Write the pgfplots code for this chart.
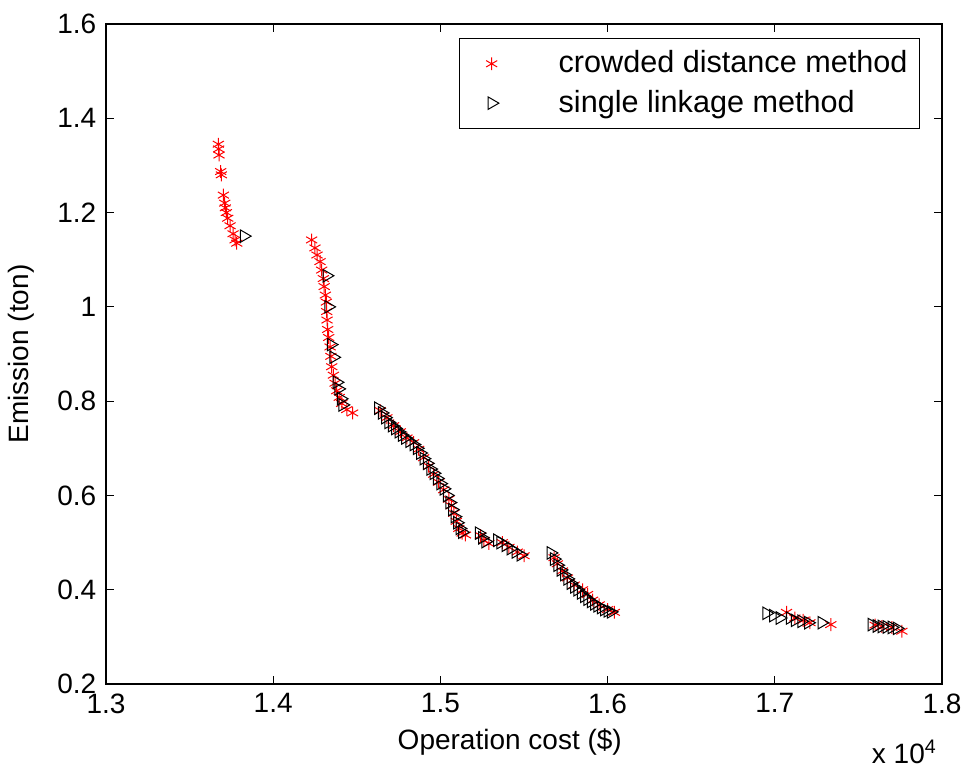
\documentclass[border=0pt]{standalone}
\usepackage{pgfplots}
\pgfplotsset{compat=1.18}
\usepackage{fontspec}
\setmainfont{Liberation Sans}
\usetikzlibrary{calc}
\begin{document}
\fontsize{14}{17}\selectfont
\begin{tikzpicture}
\begin{axis}[name=ax,
  scale only axis, width=418pt, height=330pt,
  xmin=1.3, xmax=1.8, ymin=0.2, ymax=1.6,
  xtick={1.3,1.4,...,1.8}, ytick={0.2,0.4,...,1.6},
  xticklabels={1.3,1.4,1.5,1.6,1.7,1.8},
  yticklabels={0.2,0.4,0.6,0.8,1,1.2,1.4,1.6},
  tick align=inside, major tick length=4pt,
  ticklabel style={font=\fontsize{14}{17}\selectfont},
  /pgf/number format/assume math mode=true,
  axis line style={line width=0.6pt}, tick style={line width=0.6pt, black},
  xlabel={Operation cost (\$)}, ylabel={Emission (ton)},
  every axis x label/.style={at={(rel axis cs:0.483,-0.088)}, anchor=center, font=\fontsize{14}{17}\selectfont},
  every axis y label/.style={at={(rel axis cs:-0.1017,0.5)}, rotate=90, anchor=center, font=\fontsize{14}{17}\selectfont},
  legend style={at={(1,1)}, anchor=north east, xshift=-11pt, yshift=-7pt, draw=black, line width=0.6pt,
    font=\fontsize{15.3}{17}\selectfont, row sep=2.5pt, inner xsep=4pt, inner ysep=4pt,
    /tikz/every odd column/.append style={column sep=19.5pt}},
  legend cell align=left,
  legend image code/.code={\path[draw=none, fill=none] (0pt,-1pt) rectangle (24pt,1pt); \draw[#1] plot coordinates {(12pt,0pt)};},
]
\addplot[only marks, mark=asterisk, mark size=3.2pt, red, mark options={line width=0.5pt}] table {
x y
1.3672 1.345
1.3674 1.335
1.3676 1.322
1.3686 1.287
1.3690 1.280
1.3702 1.237
1.3710 1.220
1.3714 1.210
1.3720 1.200
1.3728 1.188
1.3742 1.172
1.3760 1.155
1.3772 1.142
1.3782 1.135
1.4230 1.142
1.4250 1.125
1.4262 1.110
1.4280 1.096
1.4290 1.078
1.4300 1.060
1.4305 1.043
1.4312 1.025
1.4318 1.010
1.4320 0.990
1.4322 0.972
1.4326 0.952
1.4332 0.935
1.4340 0.915
1.4345 0.895
1.4350 0.873
1.4360 0.855
1.4370 0.838
1.4380 0.822
1.4395 0.808
1.4410 0.795
1.4440 0.782
1.4475 0.775
1.4640 0.780
1.4680 0.765
1.4720 0.748
1.4760 0.735
1.4800 0.722
1.4840 0.712
1.4870 0.698
1.4900 0.680
1.4930 0.662
1.4960 0.645
1.4990 0.628
1.5020 0.612
1.5050 0.592
1.5065 0.578
1.5080 0.562
1.5095 0.545
1.5110 0.530
1.5130 0.520
1.5150 0.516
1.5240 0.515
1.5260 0.505
1.5290 0.498
1.5370 0.500
1.5410 0.490
1.5460 0.480
1.5500 0.472
1.5680 0.468
1.5700 0.455
1.5730 0.440
1.5760 0.425
1.5800 0.410
1.5850 0.400
1.5880 0.390
1.5910 0.378
1.5950 0.368
1.6000 0.358
1.6040 0.352
1.7070 0.352
1.7120 0.340
1.7170 0.335
1.7210 0.330
1.7335 0.326
1.7600 0.325
1.7640 0.322
1.7700 0.320
1.7760 0.312
};
\addlegendentry{crowded distance method}
\addplot[only marks, mark=triangle, mark size=3.6pt, black, mark options={rotate=-90, line width=0.5pt}] table {
x y
1.3825 1.150
1.4320 1.066
1.4330 1.000
1.4345 0.920
1.4360 0.893
1.4380 0.840
1.4390 0.826
1.4405 0.805
1.4415 0.792
1.4628 0.785
1.4650 0.775
1.4670 0.765
1.4690 0.755
1.4710 0.748
1.4730 0.742
1.4750 0.735
1.4770 0.728
1.4790 0.722
1.4815 0.715
1.4840 0.708
1.4860 0.700
1.4880 0.690
1.4900 0.678
1.4920 0.668
1.4940 0.656
1.4960 0.647
1.4980 0.636
1.5000 0.625
1.5020 0.614
1.5040 0.600
1.5055 0.585
1.5070 0.570
1.5085 0.555
1.5100 0.542
1.5115 0.530
1.5130 0.522
1.5230 0.520
1.5250 0.510
1.5270 0.502
1.5340 0.505
1.5360 0.500
1.5390 0.494
1.5420 0.487
1.5450 0.480
1.5480 0.474
1.5660 0.478
1.5680 0.465
1.5700 0.452
1.5720 0.442
1.5740 0.432
1.5760 0.423
1.5780 0.414
1.5800 0.406
1.5820 0.400
1.5840 0.393
1.5860 0.386
1.5880 0.380
1.5900 0.375
1.5920 0.370
1.5940 0.366
1.5960 0.362
1.5980 0.358
1.6000 0.355
1.6020 0.353
1.6950 0.350
1.6990 0.345
1.7030 0.340
1.7090 0.340
1.7120 0.335
1.7160 0.333
1.7200 0.330
1.7280 0.330
1.7580 0.326
1.7610 0.323
1.7640 0.322
1.7670 0.321
1.7700 0.320
1.7730 0.318
};
\addlegendentry{single linkage method}
\end{axis}
\node[font=\fontsize{14}{17}\selectfont, anchor=center] at ($(ax.south west)!0.955!(ax.south east)+(0,-34pt)$) {x 10\textsuperscript{4}};
\pgfresetboundingbox
\useasboundingbox ($(ax.south west)+(-53pt,-43.5pt)$) rectangle ($(ax.north east)+(11pt,12pt)$);
\end{tikzpicture}
\end{document}
